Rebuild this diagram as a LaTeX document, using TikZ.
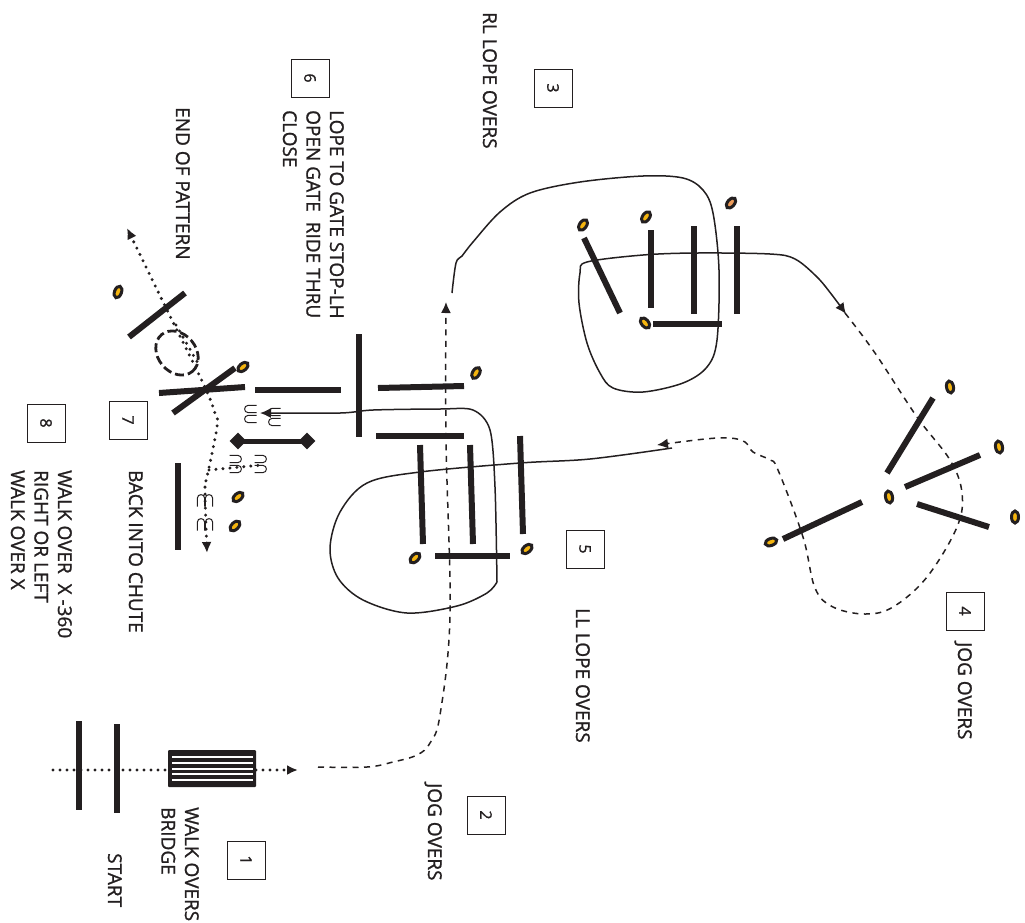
\documentclass[tikz,border=0pt]{standalone}
\usepackage{fontspec}
\newfontfamily\stepfont{Open Sans}[FakeBold=1.2]
\usetikzlibrary{arrows.meta, shapes.geometric}

\definecolor{inkblack}{HTML}{231F20}
\definecolor{coneyellow}{HTML}{F5B50F}
\definecolor{coneorange}{HTML}{EE9C5A}

\tikzset{
    pole/.style={line width=6pt, color=inkblack},
    route/.style={line width=1.5pt, color=inkblack},
    jogline/.style={route, dash pattern=on 6pt off 5.5pt},
    walkline/.style={line width=3.3pt, color=inkblack, line cap=round, dash pattern=on 0pt off 7pt},
    routetip/.style={-{Latex[length=11pt, width=10pt]}},
    bothtips/.style={{Latex[length=11pt, width=10pt]}-{Latex[length=11pt, width=10pt]}},
    conemark/.style={ellipse, draw=inkblack, fill=coneyellow, line width=3pt, minimum width=12pt, minimum height=7pt, inner sep=0pt},
    steptext/.style={rotate=-90, anchor=north west, align=left, inner sep=0pt, text=inkblack, font=\stepfont\fontsize{19}{23.5}\selectfont},
    numbox/.style={draw=inkblack, line width=0.9pt, rotate=-90, minimum width=38pt, minimum height=38pt, inner sep=0pt, text=inkblack, font=\stepfont\fontsize{16}{18}\selectfont},
    gatepost/.style={diamond, fill=inkblack, minimum size=17pt, inner sep=0pt},
}

\newcommand{\hoofmark}[3]{\draw[inkblack, line width=1pt, shift={(#1,#2)}, rotate=#3] (-3.6,6.5) -- (-3.6,-2) .. controls (-3.6,-6.5) and (3.6,-6.5) .. (3.6,-2) -- (3.6,6.5);}

\begin{document}
\begin{tikzpicture}[x=1pt, y=-1pt]
    \useasboundingbox (0,0) rectangle (1025,922);

    \draw[pole] (79,721) -- (79,810);
    \draw[pole] (117,724) -- (117,813);
    \draw[walkline, routetip] (53,770) -- (298,770);
    \fill[inkblack, rounded corners=1pt] (168,750) rectangle (256,787);
    \foreach \yy in {757,763,768.5,774,780}
        \draw[white, line width=2pt] (172,\yy) -- (253,\yy);

    \draw[pole] (584,238) -- (620,313);
    \draw[pole] (651,230) -- (651,308);
    \draw[pole] (694,226) -- (694,314);
    \draw[pole] (737,226) -- (737,314);
    \draw[pole] (653,324) -- (722,324);

    \draw[pole] (933,398) -- (887,473);
    \draw[pole] (980,455) -- (905,487);
    \draw[pole] (917,504) -- (989,527);
    \draw[pole] (862,502) -- (783,539);

    \draw[pole] (359,334) -- (359,437);
    \draw[pole] (378,388) -- (464,386);
    \draw[pole] (376,436) -- (464,436);
    \draw[pole] (420,445) -- (423,544);
    \draw[pole] (470,445) -- (473,544);
    \draw[pole] (520,436) -- (523,534);
    \draw[pole] (435,556) -- (510,556);

    \draw[pole] (129,337) -- (185,293);
    \draw[pole] (159,393) -- (245,387);
    \draw[pole] (173,413) -- (235,368);
    \draw[pole] (255,390) -- (341,390);
    \draw[pole] (178,463) -- (178,550);

    \node[gatepost] (postleft) at (238,441) {};
    \node[gatepost] (postright) at (307,441) {};
    \draw[inkblack, line width=5pt] (postleft.center) -- (postright.center);

    \foreach \name/\pos/\tilt in {a/{(583,225)}/55, b/{(646,217)}/55, d/{(645,323)}/-50, e/{(476,373)}/60,
        f/{(527,549)}/40, g/{(415,558)}/45, h/{(950,387)}/-80, i/{(999,447)}/-80, j/{(1015,517)}/90,
        k/{(889,497)}/-80, l/{(771,542)}/20, m/{(118,292)}/70, n/{(243,367)}/40, o/{(238,497)}/40, p/{(235,526)}/45}
        \node[conemark, rotate=\tilt] (cone\name) at \pos {};
    \node[conemark, rotate=50, fill=coneorange] (conec) at (731,203) {};

    \draw[jogline, routetip] plot[smooth, tension=0.6] coordinates {(318,767) (367,767) (393,762) (417,755) (430,743) (440,715) (450,615) (446,440) (446,302)};
    \draw[route, routetip] plot[smooth, tension=0.55] coordinates {(452,293) (456,263) (462,256) (473,242) (500,212) (530,193) (580,182) (643,176) (683,178) (703,190) (713,213) (719,270) (717,340) (707,367) (683,383) (643,392) (613,388) (600,373) (587,343) (579,303) (580,273) (587,262) (643,255) (697,253) (770,254) (795,259) (817,277) (832,295) (846,314)};
    \draw[jogline, routetip] plot[smooth, tension=0.6] coordinates {(845,313) (875,353) (917,417) (950,460) (962,493) (957,527) (927,577) (893,607) (865,614) (833,607) (815,588) (803,537) (778,470) (770,460) (753,452) (745,442) (730,438) (705,439) (657,445)};
    \draw[route] plot[smooth, tension=0.55] coordinates {(497,582) (487,593) (457,606) (407,613) (363,600) (338,578) (330,548) (340,512) (367,483) (420,472) (520,463) (590,459) (672,448)};
    \draw[route, routetip] plot[smooth, tension=0.5] coordinates {(497,582) (495,487) (490,430) (473,410) (440,409) (373,410) (340,413) (260,413)};

    \draw[inkblack, line width=2.8pt, dash pattern=on 9pt off 4pt, rotate around={-50:(177,353)}] (177,353) ellipse (24pt and 19pt);
    \draw[walkline, bothtips] plot[smooth, tension=0.6] coordinates {(207,553) (205,487) (207,477) (217,427) (215,413) (203,383) (168,312) (127,228)};
    \draw[walkline] (176,325) -- (199,365);
    \draw[walkline] (209,470) -- (262,465);

    \foreach \xx/\yy/\turn in {250/409/90, 250/419/90, 274/412/90, 274/422/90,
        236/459/-90, 236/469/-90, 261/459/-90, 261/469/-90,
        201/500/0, 209/500/0, 201/524/0, 209/524/0}
        {\hoofmark{\xx}{\yy}{\turn}}

    \node[steptext] (walktext) at (199,807) {WALK OVERS\\BRIDGE};
    \node[steptext] (starttext) at (122,853) {START};
    \node[steptext] (jogfirst) at (442,783) {JOG OVERS};
    \node[steptext] (rltext) at (497,12) {RL LOPE OVERS};
    \node[steptext] (jogsecond) at (972,642) {JOG OVERS};
    \node[steptext] (lltext) at (590,608) {LL LOPE OVERS};
    \node[steptext] (gatetext) at (344,110) {LOPE TO GATE STOP-LH\\OPEN GATE\ \ RIDE THRU\\CLOSE};
    \node[steptext] (endtext) at (190,107) {END OF PATTERN};
    \node[steptext] (chutetext) at (143,470) {BACK INTO CHUTE};
    \node[steptext] (xtext) at (72,470) {WALK OVER\ \ X -360\\RIGHT OR LEFT\\WALK OVER X};

    \node[numbox] (one) at (246,860) {1};
    \node[numbox] (two) at (486,815) {2};
    \node[numbox] (three) at (553,88) {3};
    \node[numbox] (four) at (965,611) {4};
    \node[numbox] (five) at (585,549) {5};
    \node[numbox] (six) at (310,78) {6};
    \node[numbox] (seven) at (128,420) {7};
    \node[numbox] (eight) at (46,423) {8};
\end{tikzpicture}
\end{document}
